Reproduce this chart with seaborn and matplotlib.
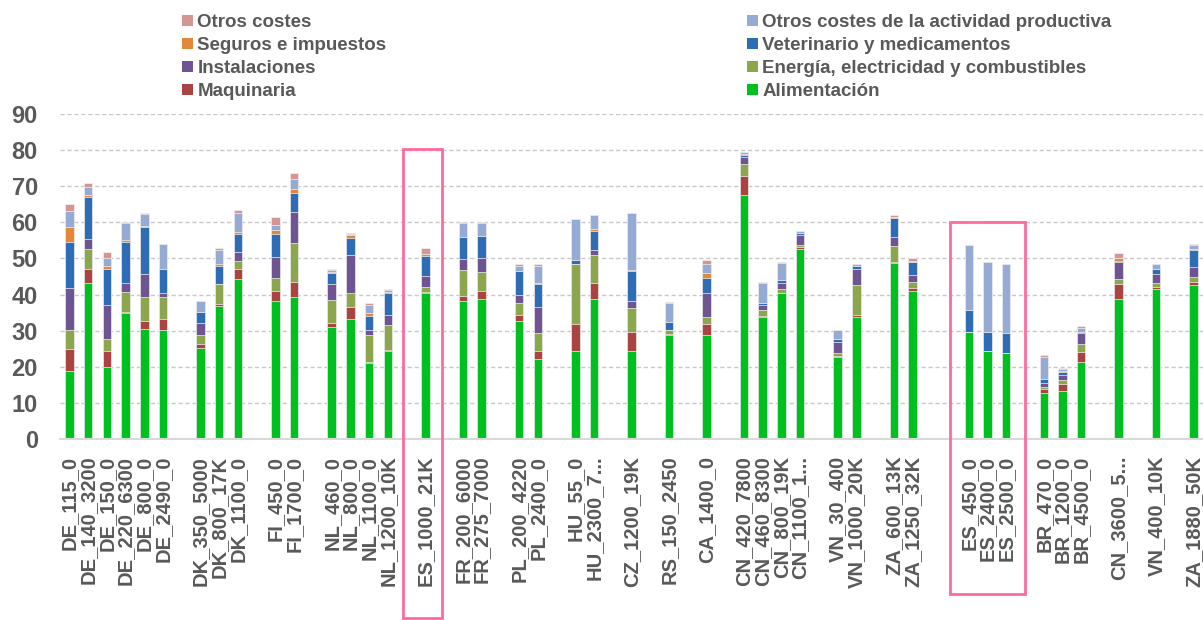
import numpy as np
import pandas as pd
import seaborn as sns
import matplotlib.pyplot as plt
from matplotlib.patches import Patch, Rectangle

# ------------------------------------------------------------------
# Datos (coste por componente)
# ------------------------------------------------------------------
# "" = hueco entre países
categories = ["DE_115_0", "DE_140_3200", "DE_150_0", "DE_220_6300", "DE_800_0", "DE_2490_0", "",
              "DK_350_5000", "DK_800_17K", "DK_1100_0", "",
              "FI_450_0", "FI_1700_0", "",
              "NL_460_0", "NL_800_0", "NL_1100_0", "NL_1200_10K", "",
              "ES_1000_21K", "",
              "FR_200_6000", "FR_275_7000", "",
              "PL_200_4220", "PL_2400_0", "",
              "HU_55_0", "HU_2300_7...", "",
              "CZ_1200_19K", "",
              "RS_150_2450", "",
              "CA_1400_0", "",
              "CN_420_7800", "CN_460_8300", "CN_800_19K", "CN_1100_1...", "",
              "VN_30_400", "VN_1000_20K", "",
              "ZA_600_13K", "ZA_1250_32K", "", "",
              "ES_450_0", "ES_2400_0", "ES_2500_0", "",
              "BR_470_0", "BR_1200_0", "BR_4500_0", "",
              "CN_3600_5...", "",
              "VN_400_10K", "",
              "ZA_1880_50K"]

alimentacion = [18.7, 43.1, 20.0, 35.0, 30.5, 30.2, 25.1, 36.7, 44.2, 38.1, 39.4,
                31.0, 33.2, 21.1, 24.5, 40.5, 38.1, 38.9, 32.7, 22.1, 24.3, 38.9,
                24.5, 28.9, 28.7, 67.7, 33.8, 40.4, 52.7, 22.6, 33.8, 48.7, 41.1,
                29.5, 24.3, 23.7, 12.8, 13.2, 21.2, 38.9, 41.6, 42.6]
maquinaria = [6.1, 4.1, 4.5, 0.2, 2.2, 3.0, 1.3, 0.8, 2.8, 3.0, 4.2,
              1.0, 3.4, 0.1, 0.1, 0.1, 1.6, 2.2, 1.6, 2.4, 7.5, 4.4,
              5.0, 0.1, 3.1, 5.0, 0.4, 0.1, 0.6, 0.5, 0.5, 0.4, 0.8,
              0, 0, 0, 1.1, 1.9, 2.8, 3.9, 0.4, 1.0]
energia = [5.4, 5.4, 3.2, 5.6, 6.5, 6.2, 2.4, 5.3, 2.2, 3.4, 10.6,
           6.5, 3.8, 7.6, 6.9, 1.4, 7.0, 5.1, 3.5, 4.8, 16.6, 7.6,
           6.8, 1.1, 2.0, 3.5, 1.5, 1.0, 0.3, 0.8, 8.3, 4.4, 1.5,
           0, 0, 0, 0.4, 1.2, 2.3, 1.5, 1.2, 1.4]
instalaciones = [11.5, 2.7, 9.4, 2.3, 6.4, 1.1, 3.2, 0.1, 2.5, 5.8, 8.8,
                 4.3, 10.5, 1.4, 2.8, 3.1, 3.1, 3.8, 2.0, 7.3, 0.1, 1.4,
                 2.0, 0.2, 6.6, 1.8, 1.5, 1.6, 3.0, 2.9, 4.4, 2.5, 1.9,
                 0, 0, 0, 1.1, 1.4, 3.0, 4.8, 2.5, 2.7]
veterinario = [12.9, 11.6, 10.1, 11.4, 13.2, 6.6, 3.3, 4.9, 5.1, 6.5, 5.2,
               3.3, 4.8, 3.9, 6.1, 5.5, 6.1, 6.2, 6.6, 6.4, 1.1, 5.3,
               8.1, 2.2, 4.3, 0.6, 0.6, 0.9, 0.5, 1.0, 1.0, 5.3, 3.8,
               6.2, 5.2, 5.6, 1.3, 0.8, 0.3, 0.1, 1.5, 4.7]
seguros = [4.0, 0.7, 0.8, 0.5, 0.3, 0, 0, 0.6, 0.5, 1.2, 1.1,
           0.1, 0.7, 0.7, 0.2, 0.5, 0.1, 0.1, 0, 0.3, 0, 0.6,
           0.3, 0, 1.4, 0.3, 0, 0, 0, 0, 0, 0.2, 0,
           0, 0, 0, 0, 0.2, 0.1, 0.8, 0, 0.2]
otros_actividad = [4.6, 2.3, 2.2, 4.9, 3.3, 6.9, 3.0, 4.0, 5.2, 1.4, 2.6,
                   0.5, 0.5, 2.2, 0.6, 0.2, 3.9, 3.6, 1.5, 4.7, 11.4, 3.7,
                   15.8, 5.2, 2.3, 0.5, 5.5, 4.7, 0.4, 2.4, 0.5, 0, 0.3,
                   17.9, 19.4, 19.1, 6.1, 0.7, 1.1, 0.2, 1.3, 1.0]
otros_costes = [1.8, 0.9, 1.6, 0.2, 0.3, 0, 0, 0.6, 0.8, 2.2, 1.8,
                0.3, 0.2, 0.8, 0.4, 1.7, 0.2, 0.2, 0.5, 0.5, 0, 0.2,
                0.2, 0.2, 1.2, 0.1, 0.3, 0.2, 0, 0, 0.1, 0.5, 0.8,
                0, 0, 0, 0.5, 0.3, 0.4, 1.3, 0, 0.5]

# de abajo hacia arriba
series = ["Alimentación", "Maquinaria", "Energía, electricidad y combustibles",
          "Instalaciones", "Veterinario y medicamentos", "Seguros e impuestos",
          "Otros costes de la actividad productiva", "Otros costes"]
values = [alimentacion, maquinaria, energia, instalaciones, veterinario,
          seguros, otros_actividad, otros_costes]
colors = ["#00C020", "#A94442", "#8CA64E", "#6E5491", "#2E6DB6", "#E3873A",
          "#95ABD3", "#D49594"]

GRAY = "#595959"

sns.set_style("white")
plt.rcParams['font.family'] = ['Liberation Sans', 'DejaVu Sans']
plt.rcParams['font.weight'] = 'bold'

fig = plt.figure(figsize=(12.03, 6.2), dpi=100)
ax = fig.add_axes([60 / 1203, (620 - 439) / 620, 1 - 60 / 1203, (439 - 114) / 620])

slots = [i for i, c in enumerate(categories) if c]
order = list(range(len(categories)))
cum = np.cumsum(np.array(values), axis=0)

# barras apiladas: se dibuja el acumulado de arriba hacia abajo
for k in reversed(range(len(series))):
    sns.barplot(x=slots, y=cum[k], order=order, color=colors[k], saturation=1,
                width=0.45, edgecolor="#F2F2F2", linewidth=0.5, ax=ax)

ax.set_xlim(-0.5, len(categories) - 0.5)
ax.set_ylim(0, 90)
ax.set_yticks(range(0, 91, 10))
ax.set_xticks(order)
ax.set_xticklabels(categories, rotation=90, fontsize=14.5, fontweight='bold', color=GRAY)
ax.set_xticks(np.arange(-0.5, len(categories), 1), minor=True)
ax.tick_params(axis='x', which='major', length=0, pad=12)
ax.tick_params(axis='x', which='minor', length=5, color="#D0D0D0", width=1)
ax.tick_params(axis='y', length=0, pad=16, labelsize=17, labelcolor=GRAY)
for t in ax.get_yticklabels():
    t.set_fontweight('bold')
ax.set_xlabel("")
ax.set_ylabel("")

ax.yaxis.grid(True, linestyle=(0, (3, 2)), color="#C8C8C8", linewidth=1)
ax.set_axisbelow(True)
for s in ["left", "top", "right"]:
    ax.spines[s].set_visible(False)
ax.spines["bottom"].set_color("#D9D9D9")
ax.spines["bottom"].set_linewidth(1.5)

# recuadros rosas
box_color = "#FF6B9A"
ax.add_patch(Rectangle((17.79, -49.6), 2.08, 129.8, fill=False, edgecolor=box_color,
                       linewidth=2, clip_on=False, zorder=5))
ax.add_patch(Rectangle((47.02, -42.9), 4.0, 102.9, fill=False, edgecolor=box_color,
                       linewidth=2, clip_on=False, zorder=5))

# leyenda en dos columnas
left_items = [7, 5, 3, 1]
right_items = [6, 4, 2, 0]
for items, xpos in [(left_items, 173 / 1203), (right_items, 738 / 1203)]:
    handles = [Patch(facecolor=colors[k], edgecolor='none') for k in items]
    leg = fig.legend(handles, [series[k] for k in items], loc='upper left',
                     bbox_to_anchor=(xpos, 1 - 5 / 620), frameon=False,
                     fontsize=13.5, handlelength=0.55, handleheight=0.55,
                     handletextpad=0.25, labelspacing=0.32, borderpad=0)
    for t in leg.get_texts():
        t.set_color(GRAY)
        t.set_fontweight('bold')

fig.savefig("out.png", dpi=100)
